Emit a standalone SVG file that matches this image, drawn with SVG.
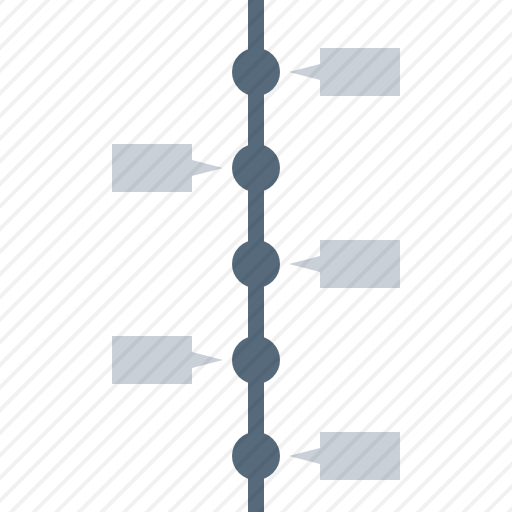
<svg xmlns="http://www.w3.org/2000/svg" width="512" height="512" viewBox="0 0 512 512">
<style>
.dot{fill:#566a7c}
.box{fill:#c9d0d8}
</style>
<defs>
<pattern id="hatch" width="16" height="16" patternUnits="userSpaceOnUse" patternTransform="rotate(45)">
<rect x="0" y="0" width="4" height="16" fill="#000" fill-opacity="0.055"/>
</pattern>
</defs>
<rect width="512" height="512" fill="#ffffff"/>
<g id="connectors">
<rect x="248" y="0" width="16" height="512" class="dot"/>
</g>
<g id="node1"><circle cx="256" cy="72" r="24" class="dot"/><rect x="320" y="48" width="80" height="48" class="box"/><polygon points="320,64 289,72 320,80" class="box"/></g>
<g id="node2"><circle cx="256" cy="168" r="24" class="dot"/><rect x="112" y="144" width="80" height="48" class="box"/><polygon points="192,160 223,168 192,176" class="box"/></g>
<g id="node3"><circle cx="256" cy="264" r="24" class="dot"/><rect x="320" y="240" width="80" height="48" class="box"/><polygon points="320,256 289,264 320,272" class="box"/></g>
<g id="node4"><circle cx="256" cy="360" r="24" class="dot"/><rect x="112" y="336" width="80" height="48" class="box"/><polygon points="192,352 223,360 192,368" class="box"/></g>
<g id="node5"><circle cx="256" cy="456" r="24" class="dot"/><rect x="320" y="432" width="80" height="48" class="box"/><polygon points="320,448 289,456 320,464" class="box"/></g>
<rect width="512" height="512" fill="url(#hatch)"/>
</svg>
